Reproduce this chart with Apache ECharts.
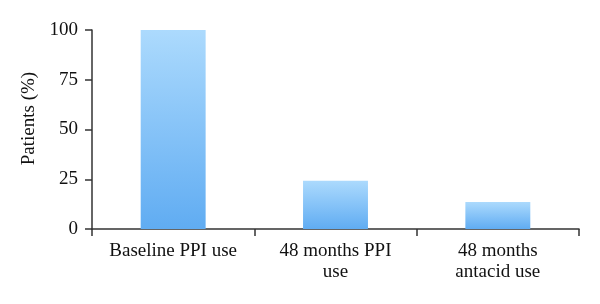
<!DOCTYPE html>
<html><head><meta charset="utf-8">
<script src="https://cdn.jsdelivr.net/npm/echarts@6/dist/echarts.min.js"></script>
<style>html,body{margin:0;padding:0;background:#fff}#c{width:600px;height:304px}</style>
</head><body><div id="c"></div>
<script>
const categories = ["Baseline PPI use", "48 months PPI\nuse", "48 months\nantacid use"];
const values = [100, 24.3, 13.6];
const yTicks = [0, 25, 50, 75, 100];
const yName = "Patients (%)";

const font = "Liberation Serif";
const chart = echarts.init(document.getElementById('c'), null, {renderer: 'canvas'});
chart.setOption({
  animation: false,
  grid: {left: 92, right: 21, top: 30, bottom: 75},
  xAxis: {
    type: 'category', data: categories,
    axisLine: {lineStyle: {color: '#333', width: 1.5}},
    axisTick: {show: true, length: 7, lineStyle: {color: '#333', width: 1.5}},
    axisLabel: {color: '#111', fontFamily: font, fontSize: 19, lineHeight: 21, margin: 12, interval: 0}
  },
  yAxis: {
    type: 'value', min: 0, max: 100, interval: 25,
    name: yName, nameLocation: 'middle', nameGap: 46, nameRotate: 90,
    nameTextStyle: {color: '#111', fontFamily: font, fontSize: 19, padding: [0, 0, 0, 22]},
    axisLine: {show: true, lineStyle: {color: '#333', width: 1.5}},
    axisTick: {show: true, length: 7, lineStyle: {color: '#333', width: 1.5}},
    splitLine: {show: false},
    axisLabel: {color: '#111', fontFamily: font, fontSize: 19, margin: 14,
      formatter: v => yTicks.includes(v) ? String(v) : ''}
  },
  series: [{
    type: 'bar', data: values, barWidth: '40%',
    itemStyle: {color: new echarts.graphic.LinearGradient(0, 0, 0, 1, [
      {offset: 0, color: '#acdafd'},
      {offset: 1, color: '#60acf2'}
    ])}
  }]
});
</script></body></html>
